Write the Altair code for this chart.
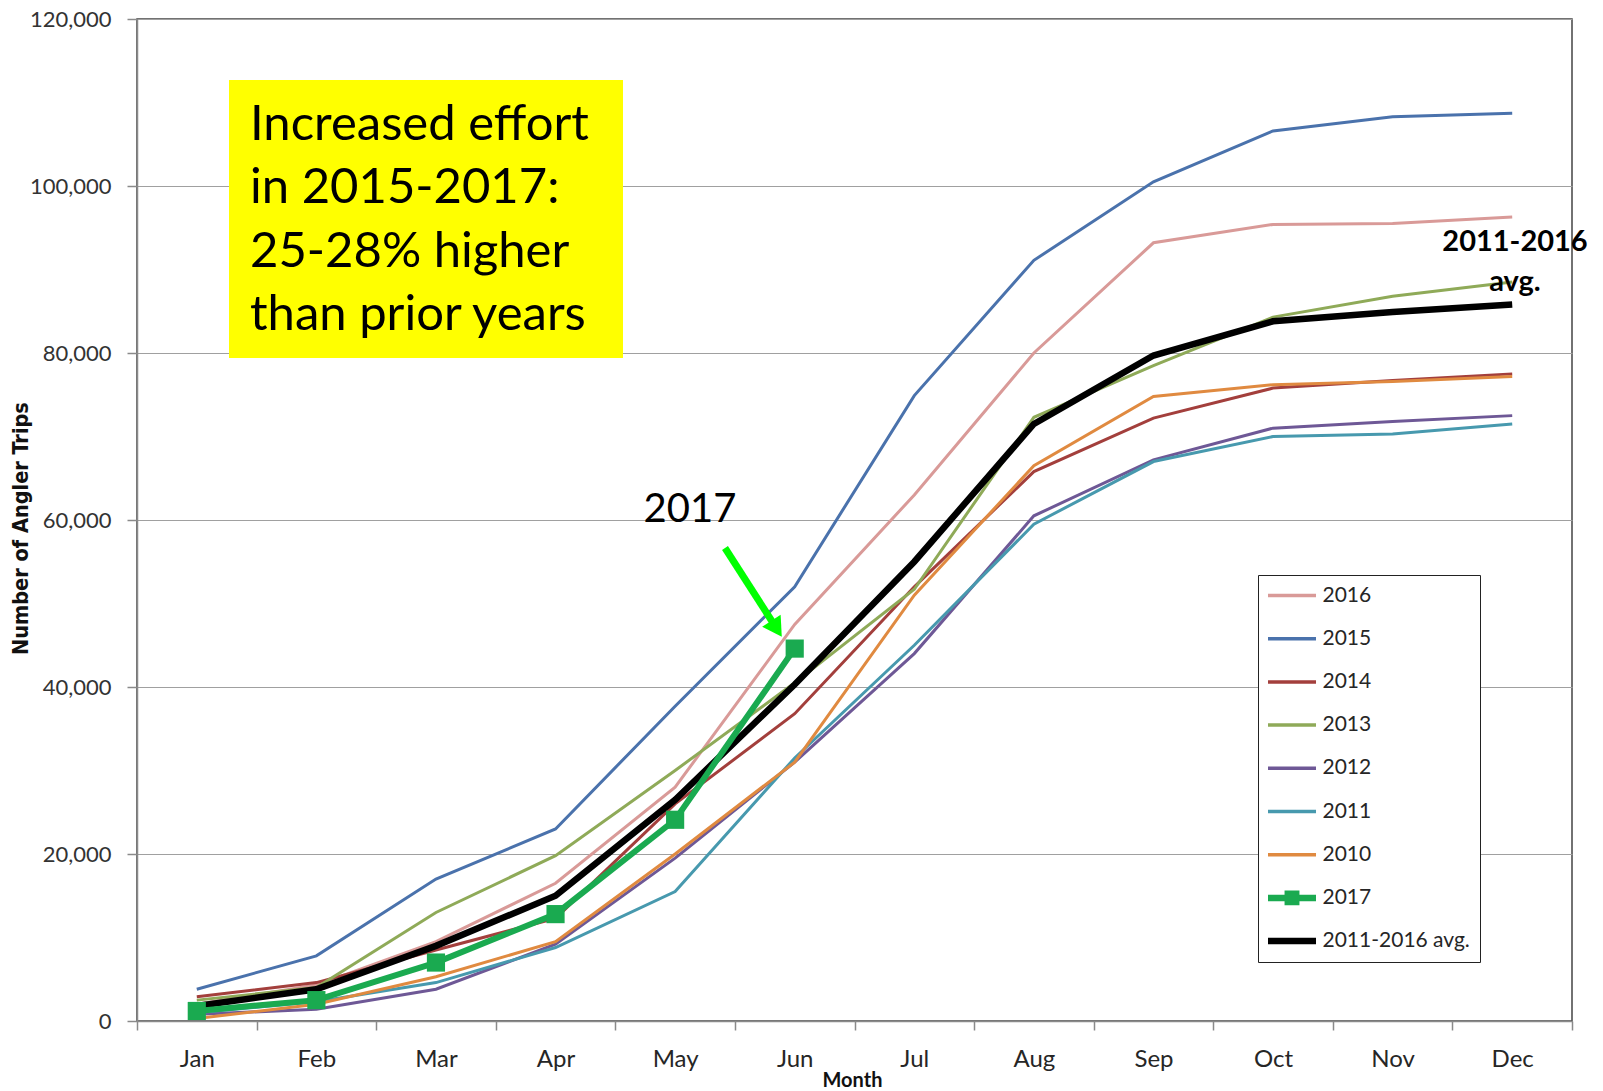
import altair as alt
import pandas as pd

months = ["Jan", "Feb", "Mar", "Apr", "May", "Jun", "Jul", "Aug", "Sep", "Oct", "Nov", "Dec"]
series_order = ["2016", "2015", "2014", "2013", "2012", "2011", "2010", "2017", "2011-2016 avg."]
series_colors = ["#D99A98", "#4A72AC", "#A33F3C", "#8FAA58", "#6E5896", "#4799AE", "#E08A40", "#1AAA50", "#000000"]

trips_2016 = [2000, 4300, 9500, 16500, 28000, 47500, 63000, 80000, 93200, 95400, 95500, 96300]
trips_2015 = [3800, 7800, 17000, 23000, 37700, 52000, 74900, 91100, 100500, 106600, 108300, 108700]
trips_2014 = [2900, 4600, 8500, 12300, 26000, 36800, 52000, 65800, 72200, 75800, 76700, 77500]
trips_2013 = [2500, 4000, 13000, 19800, 30000, 40500, 51700, 72300, 78500, 84300, 86800, 88500]
trips_2012 = [800, 1400, 3800, 9200, 19500, 31000, 44000, 60500, 67200, 71000, 71800, 72500]
trips_2011 = [1000, 2300, 4600, 8800, 15500, 31500, 45000, 59500, 67000, 70000, 70300, 71500]
trips_2010 = [300, 2000, 5300, 9500, 20000, 31000, 51000, 66500, 74800, 76200, 76600, 77200]
trips_2017 = [1200, 2500, 7000, 12800, 24100, 44600]
trips_avg = [1800, 3800, 9000, 15000, 26500, 40300, 55000, 71500, 79700, 83800, 84900, 85800]

y_ticks = [0, 20000, 40000, 60000, 80000, 100000, 120000]
box_lines = ["Increased effort", "in 2015-2017:", "25-28% higher", "than prior years"]
avg_label = ["2011-2016", "avg."]

series_values = [
    ("2016", trips_2016), ("2015", trips_2015), ("2014", trips_2014), ("2013", trips_2013),
    ("2012", trips_2012), ("2011", trips_2011), ("2010", trips_2010), ("2017", trips_2017),
    ("2011-2016 avg.", trips_avg),
]
rows = []
for name, vals in series_values:
    for m, v in zip(months, vals):
        rows.append({"month": m, "series": name, "trips": v})
df = pd.DataFrame(rows)

legend = alt.Legend(
    title=None, orient="none", legendX=1121, legendY=556, padding=10,
    strokeColor="#222222", fillColor="white",
    labelFont="Lato", labelFontSize=21, labelColor="#262626",
    symbolSize=196,
    symbolType={"expr": "(datum.value === '2017' ? 'M-3.43,0H3.43M-0.6,-0.6H0.6V0.6H-0.6Z' : 'M-3.43,0H3.43')"},
    symbolStrokeWidth={"expr": "((datum.value === '2017' || datum.value === '2011-2016 avg.') ? 6.5 : 3.5)"},
    symbolFillColor={"expr": "(datum.value === '2017' ? '#1AAA50' : 'transparent')"},
    symbolOffset=13.5, labelOffset=20, rowPadding=21.2, clipHeight=21,
)
color = alt.Color("series:N", scale=alt.Scale(domain=series_order, range=series_colors), legend=legend)

x = alt.X(
    "month:N", sort=months, bandPosition=0.5,
    scale=alt.Scale(type="band", paddingInner=0, paddingOuter=0),
    axis=alt.Axis(
        tickBand="extent", grid=False, domainColor="#8a8a8a", domainWidth=1.5,
        tickColor="#8a8a8a", tickSize=9, tickWidth=1.5,
        labelFont="Lato", labelFontSize=24, labelColor="#262626", labelPadding=17, labelAngle=0,
        title="Month", titleFont="Lato", titleFontWeight="bold", titleFontSize=20, titleColor="#111111",
        titleX=715, titleY=59, titleBaseline="middle", titleAlign="center",
    ),
)
y = alt.Y(
    "trips:Q", scale=alt.Scale(domain=[0, 120000], nice=False),
    axis=alt.Axis(
        values=y_ticks, format=",.0f", grid=True, gridColor="#a0a0a0", gridWidth=1,
        domainColor="#8a8a8a", domainWidth=1.5, tickColor="#8a8a8a", tickSize=10, tickWidth=1.5,
        labelFont="Lato", labelFontSize=22, labelColor="#333333", labelPadding=16,
        title="Number of Angler Trips", titleFont="'DejaVu Sans Condensed', Roboto, sans-serif",
        titleFontWeight="bold", titleFontSize=21.5, titleColor="#111111", titleAngle=270,
        titleX=-116, titleY=509, titleBaseline="middle", titleAlign="center",
    ),
)

base = alt.Chart(df)
others = base.transform_filter(
    alt.FieldOneOfPredicate(field="series", oneOf=series_order[:7])
).mark_line().encode(x=x, y=y, color=color, strokeWidth=alt.value(3))
avg_line = base.transform_filter(alt.datum.series == "2011-2016 avg.").mark_line().encode(
    x=x, y=y, color=color, strokeWidth=alt.value(6.5))
line_2017 = base.transform_filter(alt.datum.series == "2017").mark_line().encode(
    x=x, y=y, color=color, strokeWidth=alt.value(6))
pts_2017 = base.transform_filter(alt.datum.series == "2017").mark_square(
    size=330, opacity=1, color="#1AAA50").encode(x=x, y=y)

one = alt.Chart(pd.DataFrame({"k": [0]}))
box = one.mark_rect(color="#FFFF00").encode(
    x=alt.value(92), x2=alt.value(486), y=alt.value(61), y2=alt.value(339))
box_text = one.mark_text(
    text=box_lines, align="left", baseline="alphabetic", font="Lato", fontSize=49,
    lineHeight=63.3, color="#000000").encode(x=alt.value(113), y=alt.value(121))
label_2017 = one.mark_text(
    text="2017", align="center", baseline="alphabetic", font="Lato", fontSize=40,
    color="#000000").encode(x=alt.value(553), y=alt.value(503))
arrow_shaft = one.mark_rule(color="#00FF00", strokeWidth=7).encode(
    x=alt.value(588), y=alt.value(529), x2=alt.value(638), y2=alt.value(607))
arrow_head = one.mark_point(
    shape="triangle-up", size=484, filled=True, opacity=1, color="#00FF00", angle=147).encode(
    x=alt.value(639.6), y=alt.value(609.7))
avg_text = one.mark_text(
    text=avg_label, align="center", baseline="alphabetic", font="Lato", fontWeight="bold",
    fontSize=29, lineHeight=40, color="#000000").encode(x=alt.value(1378), y=alt.value(231.7))

chart = alt.layer(
    box, others, avg_line, line_2017, pts_2017, box_text, label_2017, arrow_shaft, arrow_head, avg_text
).properties(
    width=1435, height=1002,
    autosize=alt.AutoSizeParams(type="none"),
    padding={"left": 129, "top": 11, "right": 23, "bottom": 70},
    background="white",
).configure_view(stroke="#444444", strokeWidth=1.5)

chart.save("out.html", embed_options={"renderer": "svg", "actions": False})
